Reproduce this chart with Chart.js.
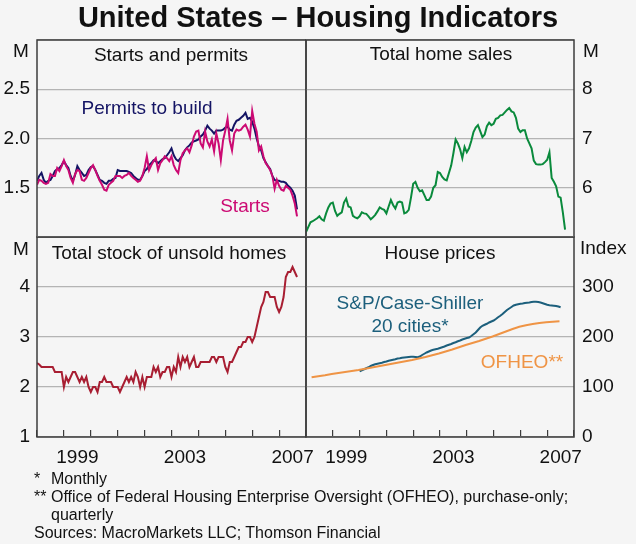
<!DOCTYPE html>
<html>
<head>
<meta charset="utf-8">
<script src="https://cdn.jsdelivr.net/npm/chart.js@4.4.1/dist/chart.umd.min.js"></script>
<style>
  html, body { margin: 0; padding: 0; background: #f5f5f5; }
  #wrap { position: relative; width: 636px; height: 544px; overflow: hidden;
          font-family: "Liberation Sans", Arial, sans-serif; color: #111; }
  canvas { position: absolute; left: 0; top: 0; }
  .t { position: absolute; white-space: nowrap; font-size: 19px; line-height: 1; transform: translate(-50%, -50%); }
  .l { position: absolute; white-space: nowrap; font-size: 19px; line-height: 1; transform: translate(0, -50%); }
  .fn { position: absolute; white-space: nowrap; font-size: 16px; line-height: 1; transform: translate(0, -50%); }
  #title { font-weight: bold; font-size: 29px; }
</style>
</head>
<body>
<div id="wrap">
  <canvas id="startsChart" width="636" height="544"></canvas>
  <canvas id="salesChart" width="636" height="544"></canvas>
  <canvas id="stockChart" width="636" height="544"></canvas>
  <canvas id="pricesChart" width="636" height="544"></canvas>

  <div class="t" id="title" style="left:318px;top:17px">United States – Housing Indicators</div>

  <div class="t" style="left:21px;top:50px">M</div>
  <div class="t" style="left:21px;top:248px">M</div>
  <div class="t" style="left:591px;top:50px">M</div>
  <div class="l" style="left:580px;top:247px">Index</div>

  <div class="t" style="left:171px;top:54px">Starts and permits</div>
  <div class="t" style="left:441px;top:53px">Total home sales</div>
  <div class="t" style="left:169px;top:252px">Total stock of unsold homes</div>
  <div class="t" style="left:440px;top:252px">House prices</div>

  <div class="t" style="left:147px;top:107px;color:#141464">Permits to build</div>
  <div class="t" style="left:245px;top:205px;color:#cc0a73">Starts</div>
  <div class="t" style="left:410px;top:302px;color:#1c5f7c">S&amp;P/Case-Shiller</div>
  <div class="t" style="left:410px;top:325px;color:#1c5f7c">20 cities*</div>
  <div class="t" style="left:522px;top:361px;color:#ef9445">OFHEO**</div>

  <div class="fn" style="left:34px;top:479px">*</div>
  <div class="fn" style="left:51px;top:479px">Monthly</div>
  <div class="fn" style="left:34px;top:497px">**</div>
  <div class="fn" style="left:51px;top:497px">Office of Federal Housing Enterprise Oversight (OFHEO), purchase-only;</div>
  <div class="fn" style="left:51px;top:515px">quarterly</div>
  <div class="fn" style="left:34px;top:533px">Sources: MacroMarkets LLC; Thomson Financial</div>
</div>

<script>
// monthly series start in Jan 1998
const firstYear = 1998;
const lastYear = 2008;
const yearLabels = [1999, 2003, 2007];

// millions, annualised
const permits = [
  1.57, 1.62, 1.65, 1.58, 1.55, 1.57, 1.58, 1.62, 1.67, 1.69, 1.70, 1.73,
  1.77, 1.73, 1.70, 1.62, 1.57, 1.63, 1.72, 1.68, 1.65, 1.62, 1.63, 1.68,
  1.71, 1.72, 1.68, 1.63, 1.58, 1.57, 1.55, 1.54, 1.57, 1.57, 1.59, 1.60,
  1.68, 1.67, 1.67, 1.67, 1.67, 1.66, 1.65, 1.62, 1.60, 1.58, 1.58, 1.62,
  1.67, 1.69, 1.73, 1.75, 1.78, 1.77, 1.75, 1.77, 1.79, 1.80, 1.83, 1.86,
  1.90, 1.83, 1.79, 1.77, 1.80, 1.83, 1.88, 1.91, 1.93, 1.96, 1.97, 1.98,
  1.99, 2.02, 2.04, 2.08, 2.13, 2.10, 2.08, 2.05, 2.08, 2.08, 2.08, 2.09,
  2.11, 2.12, 2.09, 2.08, 2.14, 2.18, 2.19, 2.21, 2.23, 2.26, 2.20, 2.21,
  2.17, 2.10, 2.00, 1.92, 1.88, 1.80, 1.76, 1.72, 1.69, 1.62, 1.58, 1.57,
  1.57, 1.56, 1.56, 1.55, 1.52, 1.50, 1.47, 1.42, 1.28
];
const starts = [
  1.53, 1.58, 1.57, 1.55, 1.54, 1.55, 1.64, 1.62, 1.62, 1.70, 1.67, 1.72,
  1.78, 1.72, 1.68, 1.60, 1.55, 1.64, 1.68, 1.67, 1.58, 1.57, 1.60, 1.65,
  1.70, 1.73, 1.68, 1.62, 1.57, 1.53, 1.48, 1.47, 1.53, 1.55, 1.57, 1.62,
  1.62, 1.62, 1.60, 1.62, 1.63, 1.65, 1.62, 1.60, 1.58, 1.56, 1.57, 1.62,
  1.70, 1.82, 1.68, 1.73, 1.77, 1.80, 1.68, 1.75, 1.78, 1.82, 1.80, 1.77,
  1.82, 1.73, 1.68, 1.65, 1.78, 1.85, 1.88, 1.90, 1.86, 1.93, 2.02, 2.07,
  2.08, 1.95, 1.91, 2.07, 1.97, 1.92, 1.99, 1.87, 2.05, 1.95, 1.78, 1.98,
  2.08, 2.20, 1.98, 1.88, 2.05, 2.09, 2.08, 2.09, 2.12, 2.14, 2.09, 2.02,
  2.28, 2.15, 2.07, 1.88, 1.92, 1.82, 1.75, 1.72, 1.68, 1.62, 1.49, 1.58,
  1.52, 1.48, 1.47, 1.52, 1.50, 1.48, 1.42, 1.34, 1.21
];
const homeSales = [
  5.10, 5.20, 5.30, 5.32, 5.35, 5.38, 5.42, 5.36, 5.33, 5.48, 5.60, 5.68,
  5.70, 5.53, 5.43, 5.47, 5.50, 5.70, 5.78, 5.62, 5.60, 5.43, 5.40, 5.38,
  5.42, 5.50, 5.48, 5.47, 5.42, 5.36, 5.40, 5.45, 5.52, 5.60, 5.57, 5.55,
  5.48, 5.62, 5.75, 5.65, 5.58, 5.70, 5.72, 5.70, 5.48, 5.50, 5.55, 5.80,
  6.08, 6.12, 6.00, 5.93, 5.95, 5.85, 5.75, 5.75, 5.82, 6.00, 6.05, 6.32,
  6.30, 6.22, 6.17, 6.15, 6.30, 6.45, 6.70, 6.98, 6.90, 6.78, 6.60, 6.83,
  6.72, 6.80, 6.95, 7.13, 7.22, 7.27, 7.15, 7.03, 7.08, 7.25, 7.32, 7.27,
  7.30, 7.40, 7.42, 7.47, 7.48, 7.53, 7.58, 7.62, 7.55, 7.53, 7.42, 7.20,
  7.13, 7.17, 7.17, 7.00, 6.90, 6.80, 6.55, 6.48, 6.47, 6.47, 6.48, 6.52,
  6.57, 6.72, 6.20, 6.12, 6.03, 5.82, 5.80, 5.50, 5.15
];
const unsoldStock = [
  2.48, 2.45, 2.4, 2.4, 2.4, 2.4, 2.4, 2.4, 2.3, 2.3, 2.3, 2.3,
  2.0, 2.2, 2.1, 2.2, 2.3, 2.3, 2.2, 2.1, 2.2, 2.1, 2.2, 2.0,
  1.9, 2.0, 2.0, 1.9, 2.1, 2.1, 2.2, 2.1, 2.1, 2.1, 2.0, 2.0,
  2.0, 1.9, 2.0, 2.1, 2.2, 2.1, 2.2, 2.1, 2.3, 2.2, 2.0, 2.2,
  2.0, 2.2, 2.2, 2.2, 2.4, 2.3, 2.4, 2.2, 2.3, 2.3, 2.4, 2.4,
  2.2, 2.4, 2.3, 2.6, 2.4, 2.6, 2.5, 2.6, 2.4, 2.5, 2.6, 2.4,
  2.4, 2.5, 2.5, 2.5, 2.5, 2.5, 2.6, 2.6, 2.5, 2.6, 2.6, 2.6,
  2.4, 2.3, 2.5, 2.5, 2.6, 2.7, 2.8, 2.8, 2.9, 2.9, 3.0, 3.0,
  2.9, 3.0, 3.2, 3.4, 3.6, 3.7, 3.9, 3.9, 3.8, 3.8, 3.8, 3.6,
  3.5, 3.6, 3.8, 4.2, 4.3, 4.3, 4.4, 4.3, 4.2
];

// S&P/Case-Shiller 20 cities, monthly from Jan 2000
const caseShillerStart = 2000;
const caseShiller = [
  131.5, 133.5, 135.5, 137.5, 139.5, 142, 144, 145.5, 146.5, 147.5, 148.5, 150,
  151, 152.5, 153.5, 154.5, 155.5, 157, 157.5, 158.5, 159, 159.5, 160, 160.5,
  160.5, 160, 159.5, 161, 164, 166.5, 169, 171, 173, 174.5, 175.5, 176.5,
  178, 179.5, 181, 183, 184.5, 186, 188, 189.5, 191.5, 193, 195, 196.5,
  198, 199, 202, 205.5, 209, 214, 219, 222.5, 224.5, 226.5, 229, 231,
  233, 236, 239.5, 242.5, 246, 250, 254, 257, 260, 263, 264.5, 265.5,
  266.5, 267, 268, 268.5, 269, 270, 270.5, 270.5, 270, 269, 267.5, 266,
  264.5, 263.5, 263, 262.5, 262, 261, 259.5
];
// OFHEO purchase-only, quarterly from Q1 1998
const ofheo = [
  119.5, 121.5, 123.5, 126,
  128, 130, 132, 134,
  136.5, 139, 141.5, 144,
  146.5, 149, 151.5, 154,
  157, 160, 163.5, 167,
  171, 175, 179.5, 184,
  188, 192, 196.5, 201,
  206, 211, 216, 220.5,
  223.5, 226, 228, 229.5,
  230.5, 231.5
];

const monthly = (values, start) => values.map((v, i) => ({ x: start + i / 12, y: v }));
const quarterly = (values, start) => values.map((v, i) => ({ x: start + (3 * i + 2.5) / 12, y: v }));

Chart.defaults.font.family = '"Liberation Sans", Arial, sans-serif';
Chart.defaults.font.size = 19;
Chart.defaults.color = '#111';

const frame = {
  id: 'frame',
  afterDraw(chart) {
    const { ctx, chartArea: a } = chart;
    ctx.save();
    ctx.strokeStyle = '#3c3c3c';
    ctx.lineWidth = 1.5;
    ctx.strokeRect(a.left, a.top, a.right - a.left, a.bottom - a.top);
    ctx.restore();
  }
};

const line = (label, data, color) => ({
  label, data, borderColor: color, borderWidth: 2, pointRadius: 0, fill: false, tension: 0
});

const makePanel = (id, datasets, cfg) => {
  const left = cfg.side === 'left';
  return new Chart(document.getElementById(id), {
    type: 'line',
    data: { datasets },
    options: {
      responsive: false,
      animation: false,
      events: [],
      layout: { padding: cfg.padding },
      plugins: { legend: { display: false }, tooltip: { enabled: false } },
      scales: {
        x: {
          type: 'linear',
          min: firstYear,
          max: lastYear,
          display: cfg.showYears,
          border: { display: false },
          grid: { drawOnChartArea: false, drawTicks: true, tickLength: -7, color: '#3c3c3c', lineWidth: 1.2 },
          ticks: {
            stepSize: 1,
            autoSkip: false,
            maxRotation: 0,
            padding: 16,
            labelOffset: 13.5,
            callback: v => (yearLabels.includes(v) ? String(v) : '')
          },
          afterFit: s => { s.height = cfg.showYears ? 40 : 0; }
        },
        y: {
          position: cfg.side,
          min: cfg.min,
          max: cfg.max,
          border: { display: false },
          grid: { drawTicks: false, color: '#b4b4b4', lineWidth: 1.2 },
          ticks: {
            stepSize: cfg.step,
            padding: left ? 7 : 8,
            callback: v => (cfg.labels.includes(v) ? v.toFixed(cfg.decimals) : '')
          },
          afterFit: s => { s.width = left ? 37 : 62; }
        }
      }
    },
    plugins: [frame]
  });
};

makePanel('startsChart', [
  line('Starts', monthly(starts, firstYear), '#cc0a73'),
  line('Permits to build', monthly(permits, firstYear), '#141464')
], { side: 'left', min: 1, max: 3, step: 0.5, labels: [1.5, 2, 2.5], decimals: 1,
     showYears: false, padding: { left: 0, right: 330, top: 40, bottom: 307 } });

makePanel('salesChart', [
  line('Total home sales', monthly(homeSales, firstYear), '#0a8a3c')
], { side: 'right', min: 5, max: 9, step: 1, labels: [6, 7, 8], decimals: 0,
     showYears: false, padding: { left: 306, right: 0, top: 40, bottom: 307 } });

makePanel('stockChart', [
  line('Total stock of unsold homes', monthly(unsoldStock, firstYear), '#a81e32')
], { side: 'left', min: 1, max: 5, step: 1, labels: [1, 2, 3, 4], decimals: 0,
     showYears: true, padding: { left: 0, right: 330, top: 237, bottom: 67 } });

makePanel('pricesChart', [
  line('OFHEO', quarterly(ofheo, firstYear), '#ef9445'),
  line('S&P/Case-Shiller 20 cities', monthly(caseShiller, caseShillerStart), '#1c5f7c')
], { side: 'right', min: 0, max: 400, step: 100, labels: [0, 100, 200, 300], decimals: 0,
     showYears: true, padding: { left: 306, right: 0, top: 237, bottom: 67 } });
</script>
</body>
</html>
